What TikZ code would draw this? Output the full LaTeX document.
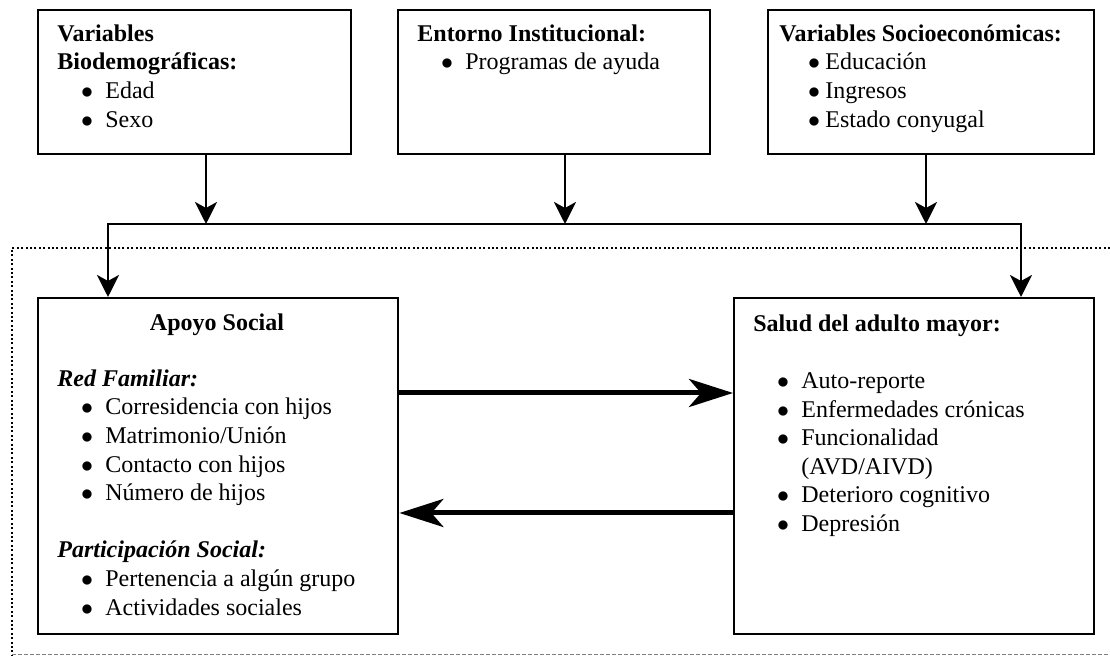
\documentclass[tikz,border=0pt]{standalone}
\usepackage{fontspec}
\setmainfont{Liberation Serif}
\usetikzlibrary{arrows.meta}
\newcommand\bul[1]{\makebox[24pt][l]{\hspace{11.8pt}$\bullet$}#1}
\newcommand\bulc[1]{\makebox[23pt][l]{\hspace{14.3pt}$\bullet$}#1}
\newcommand\fst{\rule{0pt}{10pt}}
\begin{document}
\begin{tikzpicture}[x=0.5pt,y=-0.5pt,
  box/.style={draw, line width=1.2pt, anchor=north west, inner sep=0pt},
  txt/.style={anchor=north west, inner sep=0pt, align=left, font=\fontsize{12}{14.3}\selectfont},
  conn/.style={line width=1.2pt, -{Stealth[length=11pt,width=11pt,inset=3pt]}},
  bigarrow/.style={line width=2.5pt, -{Stealth[length=22pt,width=14pt,inset=6pt]}},
  frame/.style={line width=1pt, dash pattern=on 1pt off 1.2pt},
  framebottom/.style={gray, line width=0.5pt, dash pattern=on 2pt off 1pt}
]
\useasboundingbox (0,0) rectangle (1110,656);

% dotted frame
\coordinate (fTR) at (1110,248);
\coordinate (fTL) at (12,248);
\coordinate (fBL) at (12,655);
\coordinate (fBR) at (1110,655);
\draw[frame] (fTR) -- (fTL) -- (fBL);
\draw[framebottom] (fBL) -- (fBR);

% boxes
\node[box, minimum width=156.5pt, minimum height=72pt] (b1) at (37,9) {};
\node[box, minimum width=156pt, minimum height=72pt] (b2) at (397,9) {};
\node[box, minimum width=163pt, minimum height=72pt] (b3) at (767,9) {};
\node[box, minimum width=180pt, minimum height=168pt] (as) at (37,297) {};
\node[box, minimum width=180pt, minimum height=168pt] (sal) at (733,297) {};

% texts
\node[txt] (t1) at (57,21) {\fst\textbf{Variables}\\\textbf{Biodemográficas:}\\\bul{Edad}\\\bul{Sexo}};
\node[txt] (t2) at (417,21) {\fst\textbf{Entorno Institucional:}\\\bul{Programas de ayuda}};
\node[txt] (t3) at (779,21) {\fst\textbf{Variables Socioeconómicas:}\\\bulc{Educación}\\\bulc{Ingresos}\\\bulc{Estado conyugal}};
\node[anchor=base, inner sep=0pt, font=\fontsize{12}{14.3}\selectfont\bfseries] (tas) at (217,331) {Apoyo Social};
\node[txt] (tasl) at (57,366) {\fst\textbf{\textit{Red Familiar:}}\\
  \bul{Corresidencia con hijos}\\
  \bul{Matrimonio/Unión}\\
  \bul{Contacto con hijos}\\
  \bul{Número de hijos}\\[14.3pt]
  \textbf{\textit{Participación Social:}}\\
  \bul{Pertenencia a algún grupo}\\
  \bul{Actividades sociales}};
\node[txt] (tsal) at (753,311) {\fst\textbf{Salud del adulto mayor:}\\[14.3pt]
  \bul{Auto-reporte}\\
  \bul{Enfermedades crónicas}\\
  \bul{Funcionalidad}\\
  \hspace*{24pt}(AVD/AIVD)\\
  \bul{Deterioro cognitivo}\\
  \bul{Depresión}};

% connectors
\coordinate (j1) at (206,224);
\coordinate (j2) at (565,224);
\coordinate (j3) at (926,224);
\coordinate (hl) at (108,224);
\coordinate (hr) at (1021,224);
\draw[conn] (b1.south -| j1) -- (j1);
\draw[conn] (b2.south -| j2) -- (j2);
\draw[conn] (b3.south -| j3) -- (j3);
\draw[conn] (j2) -- (hl) -- (hl |- as.north);
\draw[conn] (j2) -- (hr) -- (hr |- sal.north);

\coordinate (ra) at (565,393);
\coordinate (la) at (565,513);
\draw[bigarrow] (as.east |- ra) -- (sal.west |- ra);
\draw[bigarrow] (sal.west |- la) -- (as.east |- la);
\end{tikzpicture}
\end{document}
